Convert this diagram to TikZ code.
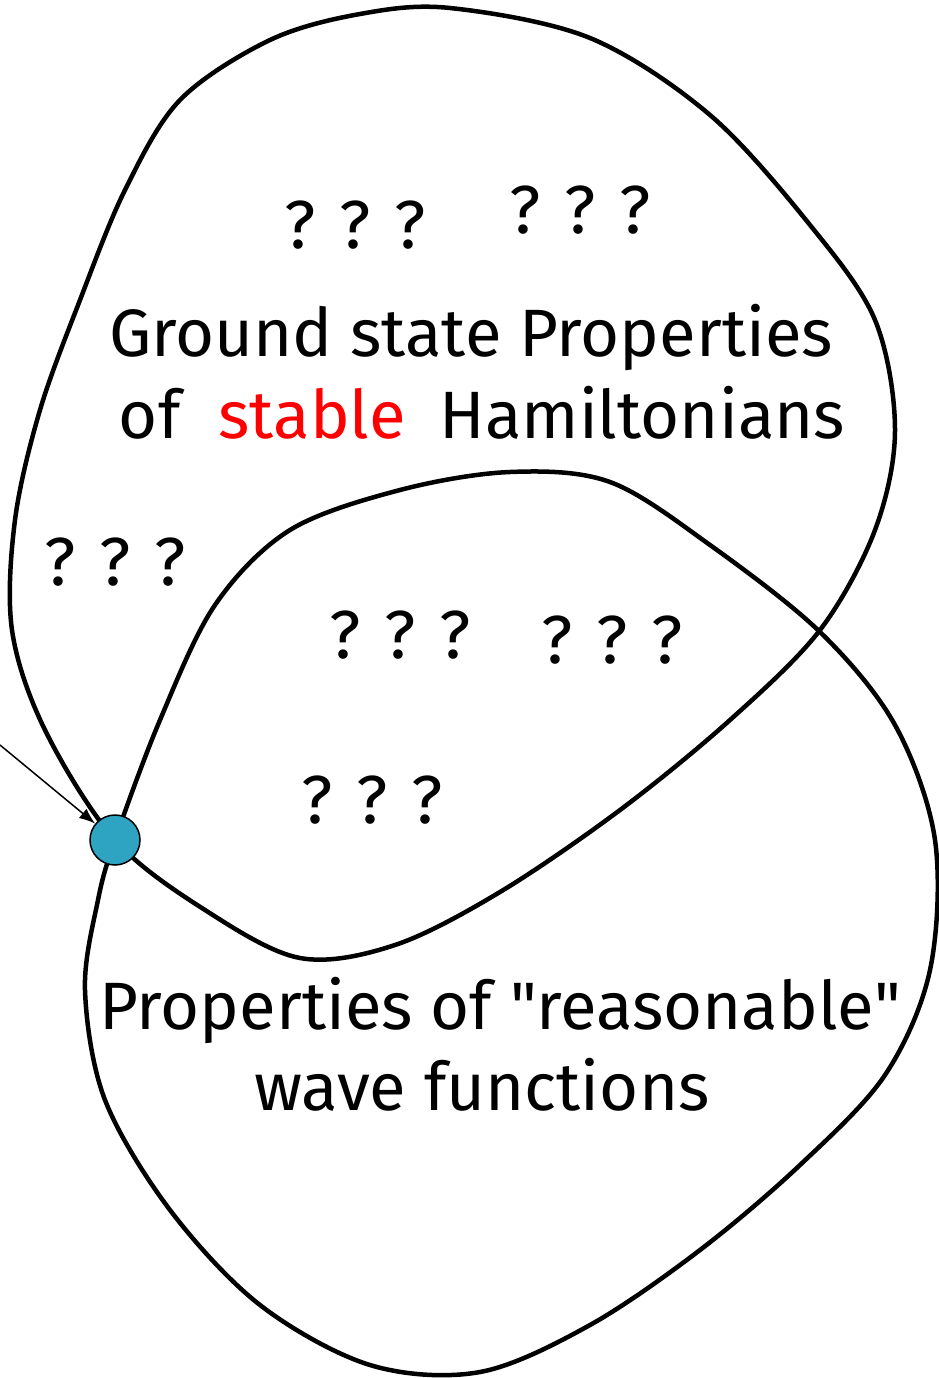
\documentclass[tikz,border=0pt]{standalone}
\usepackage{fontspec}
\setmainfont{Fira Sans}
\usepackage{tikz}
\usetikzlibrary{arrows.meta,positioning}
\definecolor{dotTeal}{RGB}{46,163,194}
\definecolor{stableRed}{RGB}{255,0,0}

\begin{document}
\begin{tikzpicture}[x=1pt,y=-1pt,
    blob/.style={line width=4.5pt, line join=round},
    label/.style={font=\fontsize{67}{80}\selectfont, align=center, inner sep=0pt},
    qmark/.style={font=\fontsize{68}{70}\selectfont, inner sep=0pt},
    >={Latex[length=16pt,width=12pt]}
  ]
    \useasboundingbox (0,0) rectangle (939,1378);

    % upper set: ground states of stable Hamiltonians
    \draw[blob] plot[smooth cycle, tension=0.55] coordinates {
      (450,8) (590,38) (710,115) (810,225) (875,320) (895,430) (875,530)
      (820,630) (730,720) (620,810) (500,892) (395,945) (300,958) (205,910)
      (115,840) (45,730) (12,630) (15,520) (40,410) (80,300) (125,190)
      (180,100) (270,40) (360,14)};

    % lower set: reasonable wave functions
    \draw[blob] plot[smooth cycle, tension=0.55] coordinates {
      (115,840) (160,720) (215,605) (290,530) (400,490) (510,472) (610,482)
      (710,545) (820,632) (895,725) (935,840) (930,970) (885,1075) (800,1165)
      (700,1250) (590,1325) (480,1372) (370,1365) (260,1305) (170,1210)
      (105,1100) (85,990) (98,900)};

    \node[label] (top1) at (471,338) {Ground state Properties};
    \node[label] (top2) at (482,413) {of\hspace{38pt}\textcolor{stableRed}{stable}\hspace{34pt}Hamiltonians};
    \node[label] (bot1) at (500,1010) {Properties of \textquotedbl reasonable\textquotedbl};
    \node[label] (bot2) at (482,1085) {wave functions};

    \node[qmark] (q1) at (355,225) {? ? ?};
    \node[qmark] (q2) at (580,210) {? ? ?};
    \node[qmark] (q3) at (115,562) {? ? ?};
    \node[qmark] (q4) at (400,635) {? ? ?};
    \node[qmark] (q5) at (612,640) {? ? ?};
    \node[qmark] (q6) at (372,800) {? ? ?};

    \node[circle, draw, line width=1.5pt, fill=dotTeal, minimum size=50pt, inner sep=0pt] (pt) at (115,840) {};
    \coordinate (from) at (0,745);
    \draw[->, line width=1.5pt] (from) -- (pt);
\end{tikzpicture}
\end{document}
